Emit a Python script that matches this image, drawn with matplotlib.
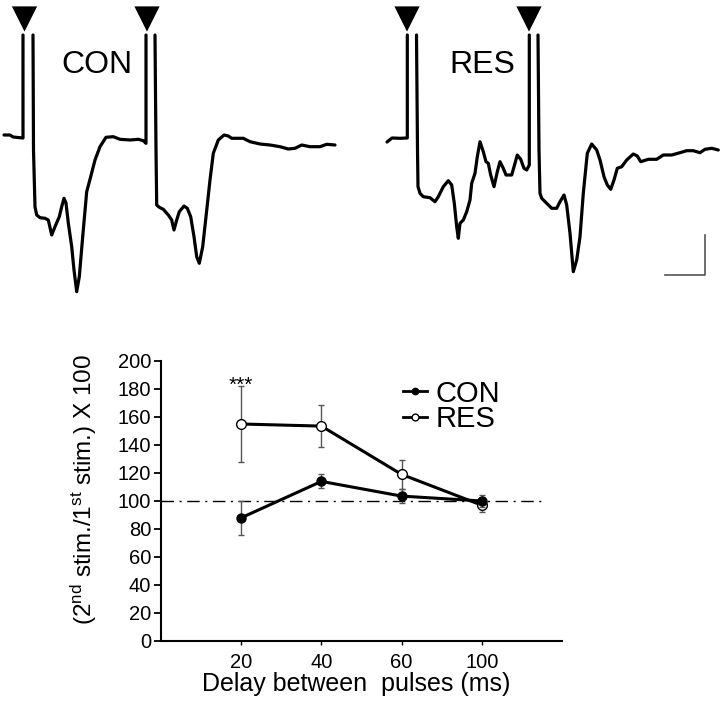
import matplotlib
matplotlib.use("Agg")
import matplotlib.pyplot as plt
import numpy as np

plt.rcParams['font.family'] = ['Liberation Sans', 'DejaVu Sans']
plt.rcParams['mathtext.fontset'] = 'custom'
plt.rcParams['mathtext.rm'] = 'Liberation Sans'
plt.rcParams['mathtext.it'] = 'Liberation Sans'

# ---------------- paired-pulse summary data ----------------
delays = ["20", "40", "60", "100"]
con_mean = [88, 114, 103.5, 100]
con_err = [12, 5, 5, 4.5]
res_mean = [155, 153.5, 119, 97]
res_err = [27, 15, 10.5, 5]

# ---------------- example traces (time, amplitude in arbitrary units) ----------------
# segments separated by NaN at the stimulus artifacts
con_t = [4, 10, 13, 23, 23, np.nan,
         33, 33.5, 35, 36.7, 40, 45, 48.3, 51.7, 55, 59.3, 61.7, 64, 66, 68.3, 71.7, 74, 76.7,
         79.3, 82.7, 86.7, 90.7, 95, 100, 106, 113.3, 120, 130, 138.3, 143.3, 146, 146, np.nan,
         155, 156, 156.7, 159.3, 163.3, 168.3, 171.7, 174, 176.7, 179.3, 184, 187.3, 190.7, 194,
         196.7, 199.3, 202.7, 206, 210, 213.3, 218.3, 224, 228.3, 231.7, 243.3, 250, 260, 270,
         280, 288.3, 295, 301.7, 310, 320, 326.7, 335]
con_v = [-135, -135, -137, -138, -35, np.nan,
         -35, -150, -207, -215, -217.7, -218.3, -220, -235, -226.7, -216.7, -206.7, -198.3, -203,
         -223, -246.7, -270, -291.7, -276.7, -236.7, -191.7, -176.7, -160, -146.7, -137.3, -136.7,
         -139.3, -140, -139.3, -140.7, -143.3, -35, np.nan,
         -35, -150, -205, -207.3, -209.3, -215, -220, -230, -220, -211.7, -206, -208.3, -216.7,
         -236.7, -256.7, -263.3, -246.7, -216.7, -180, -153.3, -140, -135, -136, -138.3, -138.3,
         -141.7, -144, -145, -146.7, -149, -148.3, -145, -146.7, -146.7, -144.3, -145]

res_t = [387, 392, 400, 407.3, 407.3, np.nan,
         416.5, 417.5, 418, 420, 423.3, 430, 435, 438.3, 443.3, 448.3, 451.7, 454.3, 456.7, 458.3,
         460, 463.3, 466.7, 470, 471.7, 475, 477.3, 480, 483.3, 486, 488.3, 490.7, 494, 497.3,
         500, 503.3, 506, 511.7, 515, 517.3, 520.7, 524, 526.7, 529.3, 529.3, np.nan,
         538, 539, 540, 541.7, 546.7, 551.7, 556.7, 560, 564, 566.7, 570, 573.3, 576.7, 580,
         583.3, 587.3, 591.7, 596.7, 600, 604, 607.3, 610.7, 614, 617.3, 621.7, 626.7, 633.3,
         637.3, 640.7, 648.3, 656.7, 663.3, 671.7, 680, 686.7, 693.3, 700, 705, 711.7, 718.3]
res_v = [-142, -138, -138.3, -138, -35, np.nan,
         -35, -150, -186.7, -193.3, -196.7, -197.7, -201.7, -196.7, -186.7, -180.7, -185, -203.3,
         -226.7, -238.3, -223.3, -220, -211.7, -200, -183.3, -173.3, -156.7, -141.7, -151.7,
         -161.7, -163.3, -175, -186.7, -171.7, -161.7, -168.3, -175, -175, -163.3, -155, -159.3,
         -168.3, -170, -165, -35, np.nan,
         -35, -150, -193.3, -198.3, -203.3, -208.3, -208.3, -201.7, -195, -205, -233.3, -271.7,
         -260, -236.7, -193.3, -153.3, -144, -150, -160, -176.7, -185, -189.3, -180, -168.3,
         -166.7, -160, -154, -156, -161.7, -159.3, -159.3, -155, -155, -152.7, -150.7, -150.7,
         -152.7, -149.3, -148.3, -150]

stim_times = [24.5, 147, 407, 529]
trace_labels = ["CON", "RES"]
trace_label_x = [97, 482]

fig = plt.figure(figsize=(7.2, 7.02), dpi=100)

# ---------------- top: traces ----------------
axt = fig.add_axes([0, 1 - 300 / 702, 1, 300 / 702])
axt.set_xlim(0, 720)
axt.set_ylim(-300, 0)
axt.axis('off')
axt.plot(con_t, con_v, color='black', lw=2.3, solid_joinstyle='round', solid_capstyle='round')
axt.plot(res_t, res_v, color='black', lw=2.3, solid_joinstyle='round', solid_capstyle='round')
axt.scatter(stim_times, [-19] * len(stim_times), marker='v', s=330, color='black',
            edgecolors='none', zorder=3)
for lab, lx in zip(trace_labels, trace_label_x):
    axt.text(lx, -65, lab, fontsize=23, ha='center', va='center')
# scale bar
axt.plot([665, 705, 705], [-275, -275, -235], color='#555555', lw=1.2)

# ---------------- bottom: PPR plot ----------------
ax = fig.add_axes([161 / 720, 61 / 702, 401 / 720, 280 / 702])
x = np.arange(1, len(delays) + 1)
ax.axhline(100, xmin=0, xmax=4.8 / 5, color='black', lw=1.0, ls=(0, (9, 4, 1.5, 4)))
res_c = ax.errorbar(x, res_mean, yerr=res_err, color='black', lw=2.2, marker='o', ms=7,
                    mfc='white', mec='black', mew=1.0, ecolor='#555555', elinewidth=1.0,
                    capsize=2.5, capthick=1.0, zorder=3)
con_c = ax.errorbar(x, con_mean, yerr=con_err, color='black', lw=2.2, marker='o', ms=6.5,
                    mfc='black', mec='black', ecolor='#555555', elinewidth=1.0,
                    capsize=2.5, capthick=1.0, zorder=4)
ax.text(1, 178.5, "***", ha='center', va='baseline', fontsize=15)

ax.set_xlim(0, 5)
ax.set_ylim(0, 200)
ax.set_yticks(np.arange(0, 201, 20))
ax.set_xticks(x)
ax.set_xticklabels(delays)
ax.spines['top'].set_visible(False)
ax.spines['right'].set_visible(False)
ax.spines['left'].set_linewidth(1.5)
ax.spines['bottom'].set_linewidth(1.5)
ax.tick_params(axis='y', direction='out', length=5, width=1.3, labelsize=14.5, pad=2)
ax.tick_params(axis='x', direction='out', length=3, width=1.0, labelsize=14.5, pad=6)
ax.set_xlabel("Delay between  pulses (ms)", fontsize=18)
ax.xaxis.set_label_coords(0.4875, -0.112)
ax.set_ylabel("(2$^{nd}$ stim./1$^{st}$ stim.) X 100", fontsize=17.5)
ax.yaxis.set_label_coords(-0.155, 0.54)

leg = ax.legend([con_c[0], res_c[0]], ["CON", "RES"],
                loc='upper left', bbox_to_anchor=(0.575, 0.975), frameon=False,
                fontsize=21, handlelength=0.8, handletextpad=0.3, labelspacing=-0.08,
                borderaxespad=0, markerscale=0.7)
for h in leg.legend_handles:
    h.set_linewidth(2.0)

fig.savefig("out.png", dpi=100)
